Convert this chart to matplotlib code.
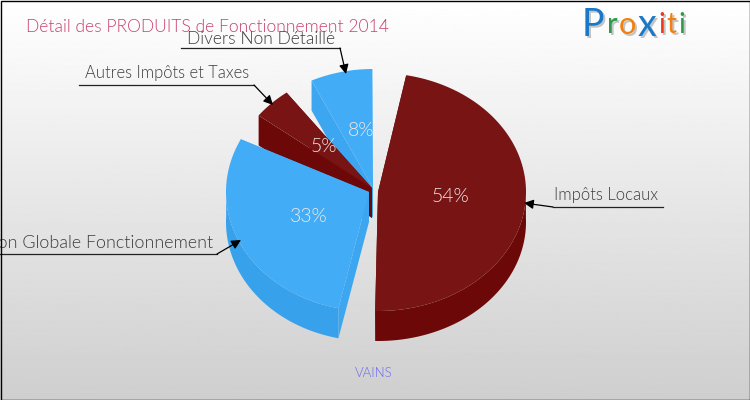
import numpy as np
import matplotlib
matplotlib.use("Agg")
import matplotlib.pyplot as plt
from matplotlib.patches import Polygon

title = "Détail des PRODUITS de Fonctionnement 2014"
city = "VAINS"
categories = ["Impôts Locaux", "Dotation Globale Fonctionnement", "Autres Impôts et Taxes", "Divers Non Détaillé"]
values = [54, 33, 5, 8]

plt.rcParams['font.family'] = ['Lato', 'DejaVu Sans']
THIN = 300

fig = plt.figure(figsize=(7.5, 4), dpi=100)
ax = fig.add_axes([0, 0, 1, 1])
ax.set_xlim(0, 750)
ax.set_ylim(400, 0)
ax.axis('off')

# background, white at the top to grey at the bottom
grad = np.linspace(1, 0.81, 256).reshape(-1, 1)
ax.imshow(grad, cmap='gray', vmin=0, vmax=1, extent=[0, 750, 400, 0], aspect='auto', zorder=0)
ax.add_patch(plt.Rectangle((0.5, 0.5), 749, 399, fill=False, ec='black', lw=1, zorder=20))

# look of each slice: apex, radius, colours
apex = [(378, 192), (369, 192), (372, 188), (373, 188)]
radius_x = [148, 143, 143, 143]
top_col = ['#781414', '#42acf6', '#781414', '#42acf6']
side_col = ['#6c0808', '#38a1ec', '#6c0808', '#38a1ec']
cut_col = ['#6c0808', '#3da6f0', '#6c0808', '#3da6f0']
RY, DEPTH = 119, 30
GAP = 11.25
scale = (360 - GAP * len(values)) / sum(values)


def ell(c, rx, t):
    return np.column_stack([c[0] + rx * np.cos(t), c[1] - RY * np.sin(t)])


# slices run clockwise from the upper right
spans = []
start = 79
for v in values:
    end = start - v * scale
    spans.append((start, end))
    start = end - GAP

# drawn back to front
for i in [3, 2, 1, 0]:
    s, e = spans[i]
    t = np.radians(np.linspace(s, e, 160))
    c = apex[i]
    rim = ell(c, radius_x[i], t)
    down = np.array([0, DEPTH])
    low = np.array(c) + down
    # both cut faces
    for p in (rim[0], rim[-1]):
        ax.add_patch(Polygon([c, p, p + down, low], fc=cut_col[i], ec='none', zorder=3 + (3 - i) * 3))
    # outer rim
    front = np.sin(t) < 0.05
    if front.any():
        r = rim[front]
        ax.add_patch(Polygon(np.vstack([r, (r + down)[::-1]]), fc=side_col[i], ec='none', zorder=4 + (3 - i) * 3))
    ax.add_patch(Polygon(np.vstack([[c], rim]), fc=top_col[i], ec='none', zorder=5 + (3 - i) * 3))

# percent labels
pct_pos = [(451, 197), (309, 216), (324, 147), (361, 131)]
for v, p in zip(values, pct_pos):
    ax.text(p[0], p[1], f"{v}%", color='#f2e8e8', fontsize=14, fontweight=THIN,
            ha='center', va='center', zorder=18)

# title and city
ax.text(26, 27, title, color='#c8426e', fontsize=12.6, fontweight=THIN, ha='left', va='center', zorder=15)
ax.text(374, 373, city, color='#6a6af0', fontsize=9.5, fontweight=THIN, ha='center', va='center', zorder=15)

# labels with leaders
txt = '#3c3c3c'
ax.text(554, 195, categories[0], color=txt, fontsize=12, fontweight=THIN, ha='left', va='center', zorder=16)
ax.text(213, 243, categories[1], color=txt, fontsize=12.9, fontweight=THIN, ha='right', va='center', zorder=16, clip_on=True)
ax.text(85, 73, categories[2], color=txt, fontsize=11.9, fontweight=THIN, ha='left', va='center', zorder=16)
ax.text(187, 39, categories[3], color=txt, fontsize=12.5, fontweight=THIN, ha='left', va='center', zorder=16)

leaders = [
    ([663, 553], [207, 207], (553, 207), (524, 203)),
    ([0, 217], [254, 254], (217, 254), (241, 240)),
    ([79, 254], [85, 85], (254, 85), (273, 105)),
    ([181, 340], [48, 48], (340, 48), (346, 74)),
]
for xs, ys, a, b in leaders:
    ax.plot(xs, ys, color='#222222', lw=0.9, zorder=17)
    ax.annotate('', xy=b, xytext=a, zorder=17,
                arrowprops=dict(arrowstyle='-|>', color='black', lw=0.9, mutation_scale=14, shrinkA=0, shrinkB=0))

# logo
logo = [("P", 593, '#1a78c8', 27), ("r", 612, '#2e9a4a', 21), ("o", 627, '#f08010', 22),
        ("x", 647, '#1a78c8', 27), ("i", 662, '#e83818', 20), ("t", 671, '#f08010', 20), ("i", 682, '#2e9a4a', 20)]
for ch, x, col, size in logo:
    ax.text(x + 2, 27, ch, color='#c4c4c4', fontsize=size, ha='center', va='center', zorder=15)
    ax.text(x, 25, ch, color=col, fontsize=size, ha='center', va='center', zorder=16)

fig.savefig('out.png', dpi=100)
